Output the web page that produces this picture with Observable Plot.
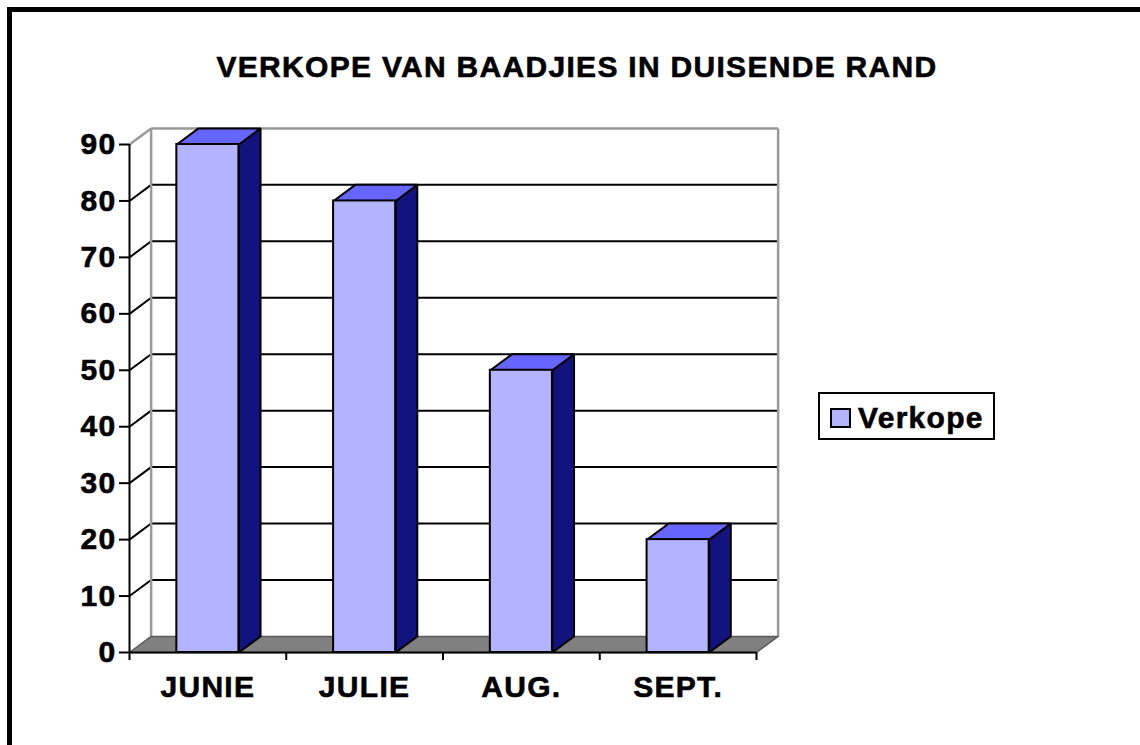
<!DOCTYPE html>
<html>
<head>
<meta charset="utf-8">
<script src="https://cdn.jsdelivr.net/npm/d3@7"></script>
<script src="https://cdn.jsdelivr.net/npm/@observablehq/plot@0.6"></script>
<style>
  html, body { margin: 0; padding: 0; background: #fff; }
  #wrap { position: relative; width: 1140px; height: 745px; overflow: hidden; font-family: "Liberation Sans", Arial, sans-serif; }
  #frame { position: absolute; left: 7px; top: 7px; width: 1200px; height: 800px; border-left: 5px solid #000; border-top: 5px solid #000; box-sizing: border-box; }
  #chart { position: absolute; left: 0; top: 0; }
  #title { position: absolute; left: 0; width: 1154px; top: 52px; text-align: center; font-weight: bold; font-size: 30px; line-height: 29px; letter-spacing: 1.3px; color: #000; white-space: nowrap; -webkit-text-stroke: 0.6px #000; }
  #legend { position: absolute; left: 818px; top: 392px; width: 177px; height: 48px; border: 2px solid #000; box-sizing: border-box; background: #fff; }
  #legend .sw { position: absolute; left: 10px; top: 14px; width: 21px; height: 20px; border: 2px solid #000; box-sizing: border-box; }
  #legend .lbl { position: absolute; left: 38px; top: 9px; font-weight: bold; font-size: 30px; line-height: 29px; letter-spacing: 1.3px; white-space: nowrap; -webkit-text-stroke: 0.6px #000; }
  svg text { font-weight: bold; letter-spacing: 1.3px; stroke: #000; stroke-width: 0.6px; }
  g[aria-label="y-axis tick"] path, g[aria-label="x-axis tick"] path { stroke-width: 2px; }
</style>
</head>
<body>
<div id="wrap">
  <div id="frame"></div>
  <div id="chart"></div>
  <div id="title"></div>
  <div id="legend"><div class="sw"></div><div class="lbl"></div></div>
</div>
<script>
// ---- data ----
const titleText = "VERKOPE VAN BAADJIES IN DUISENDE RAND";
const months = ["JUNIE", "JULIE", "AUG.", "SEPT."];
const sales = [90, 80, 50, 20];
const seriesName = "Verkope";
const yTicks = [0, 10, 20, 30, 40, 50, 60, 70, 80, 90];

// ---- style ----
const frontColor = "#b3b3ff";
const topColor = "#6666ff";
const sideColor = "#131380";
const wallEdge = "#999999";
const floorColor = "#808080";

// depth of the pseudo-3D box, in data units
const ddx = 0.138;   // along category axis
const ddy = 2.85;    // along value axis
const hw = 0.198;    // half bar width in category units
const yMax = d3.max(yTicks);
const n = months.length;

const bars = months.map((m, i) => ({m, v: sales[i], c: i + 0.5}));

const topPts = bars.flatMap((b, i) => [
  {id: i, x: b.c - hw, y: b.v},
  {id: i, x: b.c + hw, y: b.v},
  {id: i, x: b.c + hw + ddx, y: b.v + ddy},
  {id: i, x: b.c - hw + ddx, y: b.v + ddy}
]);
const sidePts = bars.flatMap((b, i) => [
  {id: i, x: b.c + hw, y: 0},
  {id: i, x: b.c + hw + ddx, y: ddy},
  {id: i, x: b.c + hw + ddx, y: b.v + ddy},
  {id: i, x: b.c + hw, y: b.v}
]);
const floorPts = [
  {x: 0, y: 0}, {x: n, y: 0}, {x: n + ddx, y: ddy}, {x: ddx, y: ddy}
];
const inner = yTicks.filter(t => t > 0 && t < yMax);

const plot = Plot.plot({
  width: 1140,
  height: 745,
  marginLeft: 129,
  marginRight: 384,
  marginTop: 144,
  marginBottom: 93,
  style: {fontFamily: "'Liberation Sans', Arial, sans-serif", fontSize: "30px", color: "#000", background: "transparent", overflow: "visible"},
  x: {domain: [0, n], axis: null},
  y: {domain: [0, yMax], axis: null},
  marks: [
    // back wall gridlines
    Plot.link(inner, {x1: ddx, x2: n + ddx, y1: d => d + ddy, y2: d => d + ddy, stroke: "#000", strokeWidth: 2}),
    // diagonal connectors from axis to wall
    Plot.link(inner, {x1: 0, x2: ddx, y1: d => d, y2: d => d + ddy, stroke: "#000", strokeWidth: 2}),
    // wall edges (gray)
    Plot.link([yMax], {x1: 0, x2: ddx, y1: d => d, y2: d => d + ddy, stroke: wallEdge, strokeWidth: 2.5}),
    Plot.link([yMax], {x1: ddx, x2: n + ddx, y1: d => d + ddy, y2: d => d + ddy, stroke: wallEdge, strokeWidth: 2.5}),
    Plot.link([ddx, n + ddx], {x1: d => d, x2: d => d, y1: ddy, y2: yMax + ddy, stroke: wallEdge, strokeWidth: 2.5}),
    // floor
    Plot.line(floorPts, {x: "x", y: "y", curve: "linear-closed", fill: floorColor, stroke: "#5a5a5a", strokeWidth: 1.5}),
    // bars: side, top, front
    Plot.line(sidePts, {x: "x", y: "y", z: "id", curve: "linear-closed", fill: sideColor, stroke: "#000", strokeWidth: 2, strokeLinejoin: "miter"}),
    Plot.line(topPts, {x: "x", y: "y", z: "id", curve: "linear-closed", fill: topColor, stroke: "#000", strokeWidth: 2, strokeLinejoin: "miter"}),
    Plot.rect(bars, {x1: d => d.c - hw, x2: d => d.c + hw, y1: 0, y2: "v", fill: frontColor, stroke: "#000", strokeWidth: 2}),
    // axes lines
    Plot.ruleX([0], {y1: 0, y2: yMax, stroke: "#000", strokeWidth: 2}),
    Plot.ruleY([0], {x1: 0, x2: n, stroke: "#000", strokeWidth: 2}),
    Plot.axisY(yTicks, {anchor: "left", tickSize: 10, tickPadding: 3, fontSize: 30, fontWeight: "bold", tickFormat: d => String(d)}),
    Plot.axisX(d3.range(n + 1), {anchor: "bottom", tickSize: 8, tickFormat: () => ""}),
    // category labels
    Plot.text(bars, {x: "c", y: 0, text: "m", dy: 35, fontSize: 30, fontWeight: "bold", fill: "#000"})
  ]
});
document.getElementById("chart").appendChild(plot);
document.getElementById("title").textContent = titleText;
document.querySelector("#legend .lbl").textContent = seriesName;
document.querySelector("#legend .sw").style.background = frontColor;
</script>
</body>
</html>
